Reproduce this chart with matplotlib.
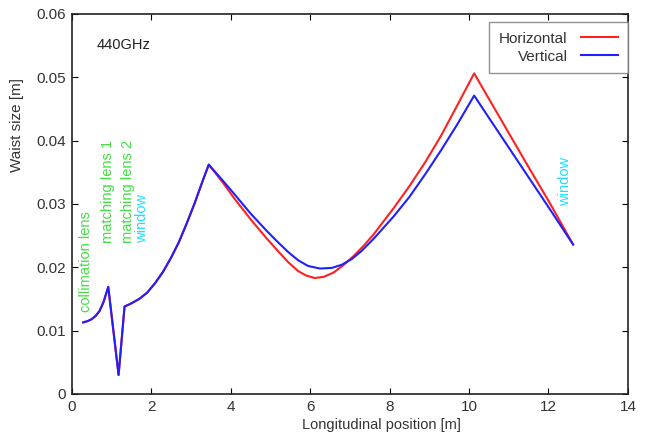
import matplotlib
matplotlib.use("Agg")
import matplotlib.pyplot as plt

plt.rcParams['font.family'] = ['Liberation Sans', 'DejaVu Sans']

# 共通部分（レンズ付近まで水平・垂直は同じ）
z_common = [0.29, 0.4, 0.5, 0.6, 0.7, 0.8, 0.92, 1.18, 1.33, 1.5, 1.7, 1.9,
            2.1, 2.3, 2.5, 2.7, 2.9, 3.1, 3.3, 3.45]
w_common = [0.0113, 0.0115, 0.0118, 0.0123, 0.0131, 0.0145, 0.0169, 0.0030,
            0.0138, 0.0143, 0.0150, 0.0160, 0.0175, 0.0193, 0.0215, 0.0240,
            0.0270, 0.0302, 0.0337, 0.0362]

# 水平
z_h = [3.8, 4.1, 4.5, 4.9, 5.2, 5.45, 5.7, 5.9, 6.12, 6.35, 6.6, 6.85, 7.1,
       7.35, 7.6, 8.1, 8.5, 8.9, 9.3, 9.7, 10.13, 10.5, 11.0, 11.5, 12.0, 12.62]
w_h = [0.0334, 0.0308, 0.0276, 0.0246, 0.0225, 0.0208, 0.0194, 0.0187,
       0.0183, 0.0185, 0.0192, 0.0204, 0.0218, 0.0234, 0.0252, 0.0293,
       0.0328, 0.0366, 0.0408, 0.0455, 0.0506, 0.0466, 0.0412, 0.0358,
       0.0305, 0.0236]

# 垂直
z_v = [3.8, 4.1, 4.5, 4.9, 5.2, 5.45, 5.7, 5.95, 6.25, 6.55, 6.8, 7.05, 7.3,
       7.6, 8.1, 8.5, 8.9, 9.3, 9.7, 10.13, 10.5, 11.0, 11.5, 12.0, 12.62]
w_v = [0.0337, 0.0315, 0.0285, 0.0258, 0.0239, 0.0224, 0.0211, 0.0202,
       0.0198, 0.0199, 0.0204, 0.0213, 0.0226, 0.0245, 0.0280, 0.0311,
       0.0347, 0.0385, 0.0425, 0.0471, 0.0436, 0.0389, 0.0342, 0.0295,
       0.0236]

# 光学素子ラベル
labels = ['collimation lens', 'matching lens 1', 'matching lens 2', 'window', 'window']
label_x = [0.35, 0.91, 1.41, 1.76, 12.41]
label_y = [0.0129, 0.0238, 0.0238, 0.0238, 0.0296]
label_c = ['#44dd44', '#44dd44', '#44dd44', '#22ddff', '#22ddff']

fig = plt.figure(figsize=(6.46, 4.32), dpi=100)
ax = fig.add_axes([0.111, 0.088, 0.861, 0.880])

ax.plot(z_common + z_h, w_common + w_h, color='#ff2020', lw=1.5, label='Horizontal')
ax.plot(z_common + z_v, w_common + w_v, color='#2020ff', lw=1.5, label='Vertical')

for t, x, y, c in zip(labels, label_x, label_y, label_c):
    ax.text(x, y, t, rotation=90, color=c, fontsize=10.5, ha='center', va='bottom')

ax.text(0.63, 0.0551, '440GHz', fontsize=10.5, color='#222222', va='center')

ax.set_xlim(0, 14)
ax.set_ylim(0, 0.06)
ax.set_xticks(range(0, 15, 2))
ax.set_yticks([0, 0.01, 0.02, 0.03, 0.04, 0.05, 0.06])
ax.set_yticklabels(['0', '0.01', '0.02', '0.03', '0.04', '0.05', '0.06'])
ax.tick_params(direction='in', top=True, right=True, labelsize=11,
               labelcolor='#333333', length=4, pad=4)
for s in ax.spines.values():
    s.set_linewidth(1.2)
    s.set_color('#222222')

ax.set_xlabel('Longitudinal position [m]', fontsize=10.5, color='#333333')
ax.set_ylabel('Waist size [m]', fontsize=11, color='#333333')
ax.xaxis.set_label_coords(0.557, -0.062)
ax.yaxis.set_label_coords(-0.086, 0.708)

leg = ax.legend(loc='upper right', markerfirst=False, fontsize=11,
                fancybox=False, handlelength=2.4, handletextpad=0.9,
                borderpad=0.65, labelspacing=0.25, borderaxespad=0,
                bbox_to_anchor=(1.0, 0.979))
leg.get_frame().set_edgecolor('#777777')
leg.get_frame().set_linewidth(1.0)
for t in leg.get_texts():
    t.set_color('#333333')

fig.savefig('out.png', dpi=100)
